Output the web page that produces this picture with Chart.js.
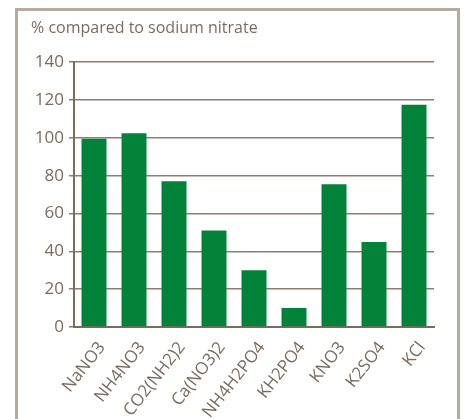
<!DOCTYPE html>
<html>
<head>
<meta charset="utf-8">
<script src="https://cdn.jsdelivr.net/npm/chart.js@4"></script>
<style>
    body { margin: 0; background: #fff; }
    #frame {
        position: absolute; left: 15px; top: 8px; width: 439px; height: 420px;
        border: 3px solid #b7aa9e; border-bottom: none;
    }
    #wrap { position: absolute; left: 0; top: 0; width: 466px; height: 419px; }
</style>
</head>
<body>
<div id="frame"></div>
<div id="wrap"><canvas id="graph"></canvas></div>
<script>
// DADOS
const categorias = ["NaNO3", "NH4NO3", "CO2(NH2)2", "Ca(NO3)2", "NH4H2PO4", "KH2PO4", "KNO3", "K2SO4", "KCl"];
const valores = [99.5, 102.5, 77, 51, 30, 10, 75.5, 45, 117.5];
const tituloEixo = "% compared to sodium nitrate";

const marrom = "#7b6b5d";
const fonte = "'Open Sans', 'Noto Sans', sans-serif";

// CONSTRUIR GRÁFICO
const ctx = document.getElementById("graph");
new Chart(ctx, {
    type: "bar",
    data: {
        labels: categorias,
        datasets: [
            {
                data: valores,
                backgroundColor: "#03823a",
                categoryPercentage: 1,
                barPercentage: 0.625,
            },
        ],
    },
    options: {
        responsive: true,
        maintainAspectRatio: false,
        animation: false,
        layout: {
            padding: { left: 31, right: 32, top: 0, bottom: 0 },
        },
        scales: {
            y: {
                min: 0,
                max: 140,
                ticks: {
                    stepSize: 20,
                    color: marrom,
                    padding: 5,
                    font: { size: 17, family: fonte },
                },
                grid: {
                    color: "#8e7e71",
                    lineWidth: 1.5,
                    tickLength: 5,
                },
                border: { color: marrom, width: 2 },
                afterFit: (scale) => { scale.width = 43; },
            },
            x: {
                grid: { display: false },
                border: { color: marrom, width: 2 },
                ticks: {
                    color: marrom,
                    minRotation: 52,
                    maxRotation: 52,
                    padding: 3,
                    labelOffset: 8,
                    font: { size: 17, family: fonte },
                },
                afterFit: (scale) => { scale.height = 92; },
            },
        },
        plugins: {
            legend: { display: false },
            tooltip: { enabled: false },
            title: {
                display: true,
                text: tituloEixo,
                align: "start",
                color: marrom,
                font: { size: 16, family: fonte, weight: "normal" },
                padding: { top: 19, bottom: 24 },
            },
        },
    },
});
</script>
</body>
</html>
